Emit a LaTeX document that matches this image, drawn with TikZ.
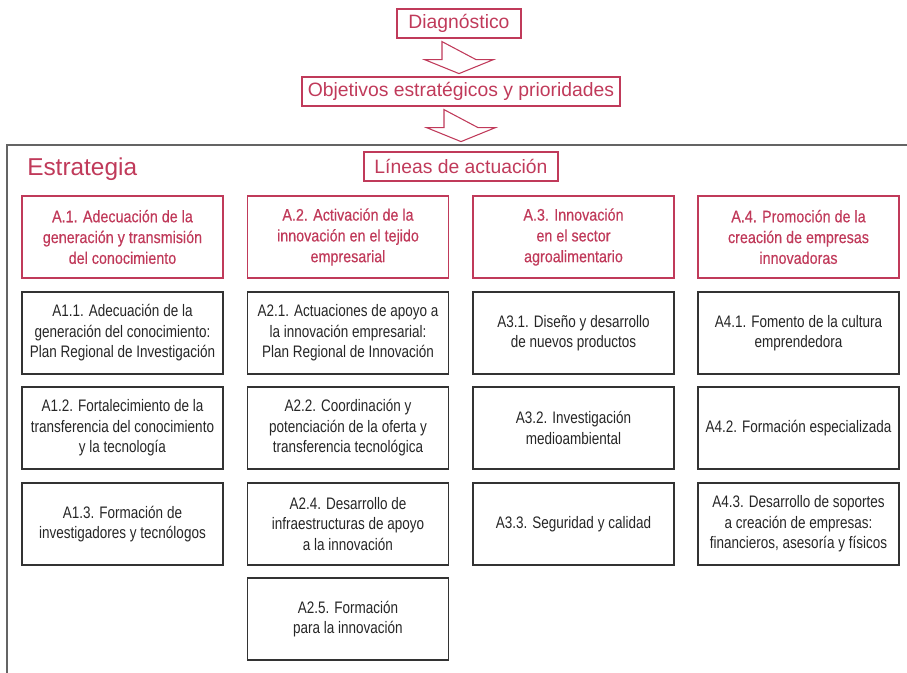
\documentclass[tikz,border=0pt]{standalone}
\usepackage{fontspec}
\setmainfont{Liberation Sans}
\newfontfamily\estrecha[FakeStretch=0.81]{Liberation Sans}
\newfontfamily\estrecharoja[FakeStretch=0.86,FakeBold=0.4]{Liberation Sans}
\usetikzlibrary{calc}
\definecolor{rojo}{RGB}{192,58,90}
\definecolor{grismarco}{RGB}{100,100,100}
\newcommand{\anchocaja}{150.75pt}
\newcommand{\altocaja}{61.5pt}
\newcommand{\flechabloque}[1]{%
  \draw[flecha] ($(#1.south)+(-17,3)$) -- ++(0,18) -- ++(-17.5,0) -- ($(#1.south)+(0,35)$)
    -- ($(#1.south)+(34.5,21)$) -- ++(-17.5,0) -- cycle;}

\begin{document}
\begin{tikzpicture}[x=0.75pt,y=-0.75pt,
    titulo/.style={draw=rojo,line width=0.9pt,text=rojo,minimum height=21.75pt,inner sep=0pt,
      font=\fontsize{14.5}{17}\selectfont},
    cabecera/.style={draw=rojo,line width=0.8pt,text=rojo,align=center,inner sep=0pt,
      minimum width=\anchocaja,minimum height=\altocaja,font=\estrecharoja\fontsize{12.5}{15.6}\selectfont},
    accion/.style={draw=black!80,line width=1pt,text=black!85,align=center,inner sep=0pt,
      minimum width=\anchocaja,minimum height=\altocaja,font=\estrecha\fontsize{12.5}{15.4}\selectfont},
    flecha/.style={draw=rojo,line width=0.8pt,fill=white,line join=miter},
    marco/.style={draw=grismarco,line width=1.5pt}]
  \useasboundingbox (0,0) rectangle (907,673);

  % cabecera del proceso
  \node[titulo,minimum width=93pt] (diag) at (459,23.5) {Diagnóstico};
  \node[titulo,minimum width=238.5pt] (obj) at (461,91.5) {Objetivos estratégicos y prioridades};
  \flechabloque{diag}
  \flechabloque{obj}

  % marco de la estrategia
  \draw[marco] (7,673) -- (7,145) -- (907,145);
  \node[text=rojo,anchor=west,inner sep=0pt,font=\fontsize{18.3}{21}\selectfont] (estr) at (27,169) {Estrategia};
  \node[titulo,minimum width=145.5pt] (lin) at (461,166.5) {Líneas de actuación};

  % lineas de actuacion
  \node[cabecera] (a1) at (122.5,237) {A.1. Adecuación de la\\ generación y transmisión\\ del conocimiento};
  \node[cabecera] (a2) at (348,237) {A.2. Activación de la\\ innovación en el tejido\\ empresarial};
  \node[cabecera] (a3) at (573.5,237) {A.3. Innovación\\ en el sector\\ agroalimentario};
  \node[cabecera] (a4) at (798.5,237) {A.4. Promoción de la\\ creación de empresas\\ innovadoras};

  % columna 1
  \node[accion] (a11) at (122.5,333) {A1.1. Adecuación de la\\ generación del conocimiento:\\ Plan Regional de Investigación};
  \node[accion] (a12) at (122.5,428) {A1.2. Fortalecimiento de la\\ transferencia del conocimiento\\ y la tecnología};
  \node[accion] (a13) at (122.5,524) {A1.3. Formación de\\ investigadores y tecnólogos};

  % columna 2
  \node[accion] (a21) at (348,333) {A2.1. Actuaciones de apoyo a\\ la innovación empresarial:\\ Plan Regional de Innovación};
  \node[accion] (a22) at (348,428) {A2.2. Coordinación y\\ potenciación de la oferta y\\ transferencia tecnológica};
  \node[accion] (a24) at (348,524) {A2.4. Desarrollo de\\ infraestructuras de apoyo\\ a la innovación};
  \node[accion] (a25) at (348,619) {A2.5. Formación\\ para la innovación};

  % columna 3
  \node[accion] (a31) at (573.5,333) {A3.1. Diseño y desarrollo\\ de nuevos productos};
  \node[accion] (a32) at (573.5,428) {A3.2. Investigación\\ medioambiental};
  \node[accion] (a33) at (573.5,524) {A3.3. Seguridad y calidad};

  % columna 4
  \node[accion] (a41) at (798.5,333) {A4.1. Fomento de la cultura\\ emprendedora};
  \node[accion] (a42) at (798.5,428) {A4.2. Formación especializada};
  \node[accion] (a43) at (798.5,524) {A4.3. Desarrollo de soportes\\ a creación de empresas:\\ financieros, asesoría y físicos};
\end{tikzpicture}
\end{document}
